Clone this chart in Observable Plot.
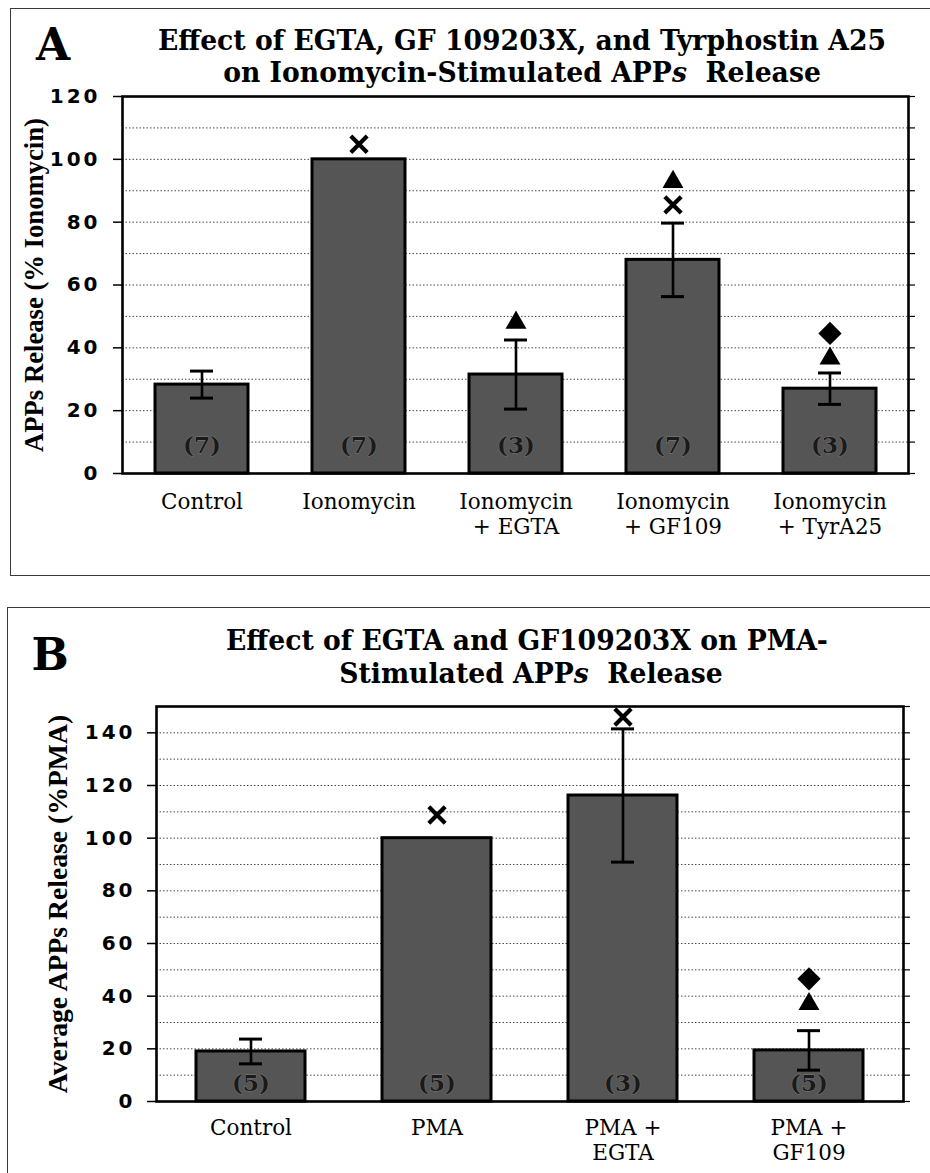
<!DOCTYPE html>
<html>
<head>
<meta charset="utf-8">
<script src="https://cdn.jsdelivr.net/npm/d3@7"></script>
<script src="https://cdn.jsdelivr.net/npm/@observablehq/plot@0.6"></script>
<style>
  html, body { margin: 0; padding: 0; background: #fff; }
  body { width: 930px; height: 1173px; position: relative; overflow: hidden; font-family: "DejaVu Serif", serif; color: #000; }
  .frame { position: absolute; border: 1.5px solid #3a3a3a; box-sizing: border-box; }
  .letter { position: absolute; font-family: "DejaVu Serif", serif; font-weight: bold; font-size: 44px; line-height: 1; transform: translate(-50%, -50%); }
  .title { position: absolute; left: 0; width: 930px; text-align: center; font-family: "DejaVu Serif", serif; font-weight: bold; white-space: pre; line-height: 1; }
  .chart { position: absolute; left: 0; }
  .chart svg { background: transparent !important; overflow: visible; }
  g[aria-label="y-axis tick label"] text { letter-spacing: 3px; }
</style>
</head>
<body>
<div class="frame" style="left:10px; top:8px; width:940px; height:568px;"></div>
<div class="frame" style="left:7px; top:607px; width:940px; height:600px;"></div>
<div class="letter" style="left:53px; top:45px;">A</div>
<div class="letter" style="left:50px; top:655px;">B</div>
<div id="tA1" class="title"></div>
<div id="tA2" class="title"></div>
<div id="tB1" class="title"></div>
<div id="tB2" class="title"></div>
<div id="chartA" class="chart" style="top:70px;"></div>
<div id="chartB" class="chart" style="top:690px;"></div>
<script>
// ---------------- Panel A data ----------------
const catsA = ["Control", "Ionomycin", "Ionomycin + EGTA", "Ionomycin + GF109", "Ionomycin + TyrA25"];
const labelsA = ["Control", "Ionomycin", "Ionomycin\n+ EGTA", "Ionomycin\n+ GF109", "Ionomycin\n+ TyrA25"];
const meansA = [28.3, 100, 31.5, 68, 27];
const errsA = [4.3, 0, 11, 11.7, 5];
const nA = [7, 7, 3, 7, 3];
const crossCatsA = ["Ionomycin", "Ionomycin + GF109"];
const crossValsA = [104.8, 85.5];
const triCatsA = ["Ionomycin + EGTA", "Ionomycin + GF109", "Ionomycin + TyrA25"];
const triValsA = [48, 92.8, 36.6];
const diaCatsA = ["Ionomycin + TyrA25"];
const diaValsA = [44.6];
const labelTicksA = [0, 20, 40, 60, 80, 100, 120];
const gridTicksA = [10, 20, 30, 40, 50, 60, 70, 80, 90, 100, 110];
const minorTicksA = [0, 10, 20, 30, 40, 50, 60, 70, 80, 90, 100, 110, 120];
const yLabelA = "APPs Release (% Ionomycin)";
const titleA1 = "Effect of EGTA, GF 109203X, and Tyrphostin A25";
const titleA2 = "on Ionomycin-Stimulated APP<i>s</i>  Release";

// ---------------- Panel B data ----------------
const catsB = ["Control", "PMA", "PMA + EGTA", "PMA + GF109"];
const labelsB = ["Control", "PMA", "PMA +\nEGTA", "PMA +\nGF109"];
const meansB = [19, 100, 116.2, 19.4];
const errsB = [4.7, 0, 25.3, 7.5];
const nB = [5, 5, 3, 5];
const crossCatsB = ["PMA", "PMA + EGTA"];
const crossValsB = [108.8, 146];
const triCatsB = ["PMA + GF109"];
const triValsB = [37];
const diaCatsB = ["PMA + GF109"];
const diaValsB = [46.6];
const labelTicksB = [0, 20, 40, 60, 80, 100, 120, 140];
const gridTicksB = [10, 20, 30, 40, 50, 60, 70, 80, 90, 100, 110, 120, 130, 140];
const minorTicksB = [0, 10, 20, 30, 40, 50, 60, 70, 80, 90, 100, 110, 120, 130, 140, 150];
const yLabelB = "Average APPs Release (%PMA)";
const titleB1 = "Effect of EGTA and GF109203X on PMA-";
const titleB2 = "Stimulated APP<i>s</i>  Release";

// --------- text fitting helpers ---------
const ctx = document.createElement("canvas").getContext("2d");
function measure(text, font) { ctx.font = font; return ctx.measureText(text).width; }
function fitSize(text, weight, family, target) {
  return 100 * target / measure(text, `${weight} 100px ${family}`);
}
const SERIF = '"DejaVu Serif"';
const SERIF2 = '"Liberation Serif"';

// Titles: DejaVu Serif Bold, slightly condensed to the reference width
const titleFont = 27;
const titleScale = 728 / measure(titleA1, `bold ${titleFont}px ${SERIF}`);
function setTitle(id, html, cx, cy) {
  const el = document.getElementById(id);
  el.innerHTML = html;
  el.style.fontSize = titleFont + "px";
  el.style.left = (cx - 465) + "px";
  el.style.top = cy + "px";
  el.style.transform = `translateY(-50%) scaleX(${titleScale})`;
}
setTitle("tA1", titleA1, 522, 40);
setTitle("tA2", titleA2, 522, 72);
setTitle("tB1", titleB1, 527, 640);
setTitle("tB2", titleB2, 531, 673);

function panel(cfg) {
  const rows = cfg.cats.map((c, i) => ({cat: c, mean: cfg.means[i], err: cfg.errs[i], n: cfg.ns[i]}));
  const errRows = rows.filter(d => d.err > 0).map(d => ({...d, lo: d.mean - d.err, hi: d.mean + d.err}));
  const pts = (cs, vs) => cs.map((c, i) => ({cat: c, v: vs[i]}));
  const labelOf = new Map(cfg.cats.map((c, i) => [c, cfg.labels[i]]));
  const ylabSize = fitSize(cfg.ylabel, "bold", SERIF2, cfg.ylabelLen);
  return Plot.plot({
    width: 930,
    height: cfg.height,
    marginTop: cfg.mt, marginBottom: cfg.mb, marginLeft: cfg.ml, marginRight: cfg.mr,
    style: {background: "transparent", color: "#000", fontFamily: "DejaVu Sans", overflow: "visible"},
    x: {domain: cfg.cats, paddingInner: cfg.pad, paddingOuter: cfg.pad / 2},
    y: {domain: [0, cfg.ymax], label: null},
    marks: [
      Plot.gridY(cfg.gridTicks, {stroke: "#333", strokeOpacity: 1, strokeWidth: 0.9, strokeDasharray: "1.5,2"}),
      Plot.barY(rows, {x: "cat", y: "mean", fill: "#555", stroke: "#000", strokeWidth: 3}),
      Plot.text(rows, {x: "cat", text: d => `(${d.n})`, frameAnchor: "bottom", dy: cfg.countDy,
        fontSize: 23, fontWeight: "bold", fontFamily: "DejaVu Serif", fill: "#1a1a1a", stroke: "#808080", strokeWidth: 0.8, paintOrder: "stroke"}),
      Plot.ruleX(errRows, {x: "cat", y1: "lo", y2: "hi", stroke: "#000", strokeWidth: 2.6}),
      Plot.tickY(errRows, {x: "cat", y: "hi", stroke: "#000", strokeWidth: 3, insetLeft: cfg.capInset, insetRight: cfg.capInset}),
      Plot.tickY(errRows, {x: "cat", y: "lo", stroke: "#000", strokeWidth: 3, insetLeft: cfg.capInset, insetRight: cfg.capInset}),
      Plot.dot(pts(cfg.crossC, cfg.crossV), {x: "cat", y: "v", symbol: "times", r: 7.5, stroke: "#000", strokeWidth: 4.2}),
      Plot.dot(pts(cfg.triC, cfg.triV), {x: "cat", y: "v", symbol: "triangle2", r: 10, fill: "#000", stroke: "none"}),
      Plot.dot(pts(cfg.diaC, cfg.diaV), {x: "cat", y: "v", symbol: "diamond2", r: 10.5, fill: "#000", stroke: "none"}),
      Plot.frame({stroke: "#000", strokeWidth: 2.6}),
      Plot.axisY({ticks: cfg.labelTicks, tickSize: 9, tickPadding: cfg.yPad, label: null,
        fontSize: 20, fontWeight: "bold", fontFamily: "DejaVu Sans", stroke: "#000", strokeWidth: 1.5}),
      Plot.axisY({anchor: "right", ticks: cfg.minorTicks, tickSize: 6, tickFormat: () => "", label: null, strokeWidth: 1.2}),
      Plot.axisX({tickSize: 0, tickPadding: cfg.xPad, tickFormat: c => labelOf.get(c), label: null,
        fontSize: 21.5, fontFamily: "DejaVu Serif", lineHeight: 1.15}),
      Plot.text([cfg.ylabel], {text: d => d, frameAnchor: "left", dx: cfg.ylabelDx, rotate: -90,
        textAnchor: "middle", lineAnchor: "middle", fontSize: ylabSize, fontWeight: "bold", fontFamily: "Liberation Serif", fill: "#000"})
    ]
  });
}

document.getElementById("chartA").append(panel({
  cats: catsA, labels: labelsA, means: meansA, errs: errsA, ns: nA,
  crossC: crossCatsA, crossV: crossValsA, triC: triCatsA, triV: triValsA, diaC: diaCatsA, diaV: diaValsA,
  ymax: 120, labelTicks: labelTicksA, gridTicks: gridTicksA, minorTicks: minorTicksA,
  ylabel: yLabelA, ylabelLen: 334, ylabelDx: -88,
  height: 500, mt: 26, mb: 97, ml: 122, mr: 22, pad: 0.41, capInset: 35,
  countDy: -21, yPad: 13, xPad: 18
}));

document.getElementById("chartB").append(panel({
  cats: catsB, labels: labelsB, means: meansB, errs: errsB, ns: nB,
  crossC: crossCatsB, crossV: crossValsB, triC: triCatsB, triV: triValsB, diaC: diaCatsB, diaV: diaValsB,
  ymax: 150, labelTicks: labelTicksB, gridTicks: gridTicksB, minorTicks: minorTicksB,
  ylabel: yLabelB, ylabelLen: 380, ylabelDx: -98,
  height: 483, mt: 16, mb: 72, ml: 156, mr: 27, pad: 0.416, capInset: 43,
  countDy: -11, yPad: 12, xPad: 16
}));
</script>
</body>
</html>
